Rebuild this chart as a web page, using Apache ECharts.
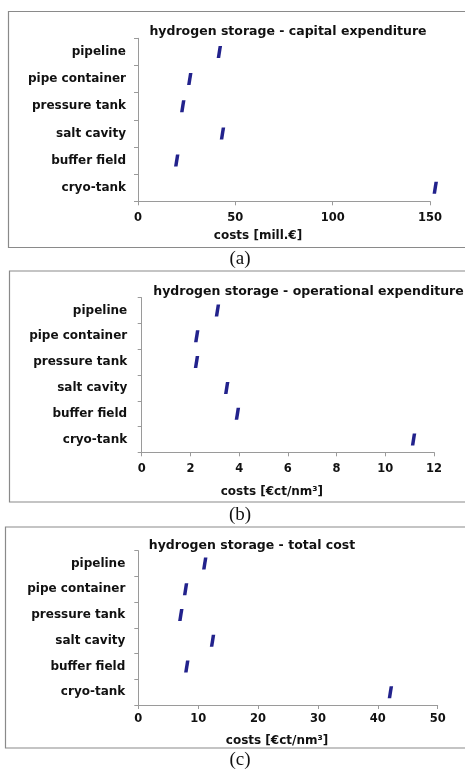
<!DOCTYPE html>
<html>
<head>
<meta charset="utf-8">
<script src="https://cdn.jsdelivr.net/npm/echarts@6/dist/echarts.min.js"></script>
<style>
html,body{margin:0;padding:0;background:#fff;}
#chart{width:465px;height:771px;}
</style>
</head>
<body>
<div id="chart"></div>
<script>
const categories = ['pipeline', 'pipe container', 'pressure tank', 'salt cavity', 'buffer field', 'cryo-tank'];
const titles = ['hydrogen storage - capital expenditure', 'hydrogen storage - operational expenditure', 'hydrogen storage - total cost'];
const axisNames = ['costs [mill.€]', 'costs [€ct/nm³]', 'costs [€ct/nm³]'];
const panelLabels = ['(a)', '(b)', '(c)'];
const capexValues = [41.8, 26.6, 23.0, 43.4, 19.9, 152.7];
const opexValues = [3.11, 2.26, 2.25, 3.49, 3.93, 11.16];
const totalValues = [11.1, 7.9, 7.1, 12.4, 8.1, 42.1];
const xMax = [150, 12, 50];
const xInterval = [50, 2, 10];

const seriesData = [capexValues, opexValues, totalValues];

const grids = [
  {left: 138, top: 38.3, width: 292, height: 163},
  {left: 141.7, top: 297.7, width: 292.3, height: 154.6},
  {left: 138.3, top: 550.7, width: 299.4, height: 154.3}
];
const titleCenters = [[283, 20], [303.5, 280.5], [247, 534]];
const namePad = [52, 32, 22];
const nameGaps = [29, 34, 29.5];
const labelMargins = [10.5, 10.5, 8];
const yMargins = [12, 14.5, 13];
const frames = [
  {x: 8.5, y: 11.5, h: 236},
  {x: 9.5, y: 271, h: 231},
  {x: 5.5, y: 527, h: 221}
];
const panelLabelPos = [[240, 259], [240, 515], [240, 760]];

const FONT = 'DejaVu Sans';
const markerPath = 'path://M1.9,0 L5.4,0 L3.5,12 L0,12 Z';

const option = {
  animation: false,
  backgroundColor: '#fff',
  title: titles.map((t, i) => ({
    text: t,
    left: titleCenters[i][0],
    top: titleCenters[i][1],
    textAlign: 'center',
    textStyle: {fontFamily: FONT, fontWeight: 'bold', fontSize: 12.5, color: '#111'}
  })),
  grid: grids,
  xAxis: grids.map((g, i) => ({
    type: 'value',
    gridIndex: i,
    min: 0,
    max: xMax[i],
    interval: xInterval[i],
    name: axisNames[i],
    nameLocation: 'middle',
    nameGap: nameGaps[i],
    nameTextStyle: {fontFamily: FONT, fontWeight: 'bold', fontSize: 12, color: '#111', padding: [0, namePad[i], 0, 0]},
    axisLine: {show: true, lineStyle: {color: '#9a9a9a', width: 1}},
    axisTick: {show: true, length: 4, lineStyle: {color: '#9a9a9a'}},
    axisLabel: {fontFamily: FONT, fontWeight: 'bold', fontSize: 11.5, color: '#111', margin: labelMargins[i]},
    splitLine: {show: false}
  })),
  yAxis: grids.map((g, i) => ({
    type: 'category',
    gridIndex: i,
    data: categories,
    inverse: true,
    boundaryGap: true,
    axisLine: {show: true, lineStyle: {color: '#9a9a9a', width: 1}},
    axisTick: {show: true, length: 4, alignWithLabel: false, lineStyle: {color: '#9a9a9a'}},
    axisLabel: {fontFamily: FONT, fontWeight: 'bold', fontSize: 12, color: '#111', margin: yMargins[i]},
    splitLine: {show: false}
  })),
  series: seriesData.map((d, i) => ({
    type: 'scatter',
    xAxisIndex: i,
    yAxisIndex: i,
    clip: false,
    symbol: markerPath,
    symbolSize: [5.4, 12],
    itemStyle: {color: '#22228c', opacity: 1},
    data: d.map((v, j) => [v, categories[j]])
  })),
  graphic: [
    ...frames.map(f => ({
      type: 'rect',
      shape: {x: f.x, y: f.y, width: 470, height: f.h},
      style: {fill: 'none', stroke: '#8a8a8a', lineWidth: 1.2},
      silent: true
    })),
    ...panelLabels.map((t, i) => ({
      type: 'text',
      x: panelLabelPos[i][0],
      y: panelLabelPos[i][1],
      style: {text: t, fontFamily: 'Liberation Serif', fontSize: 19, fill: '#111', align: 'center', verticalAlign: 'middle'}
    }))
  ]
};

const chart = echarts.init(document.getElementById('chart'), null, {renderer: 'canvas'});
chart.setOption(option);
</script>
</body>
</html>
